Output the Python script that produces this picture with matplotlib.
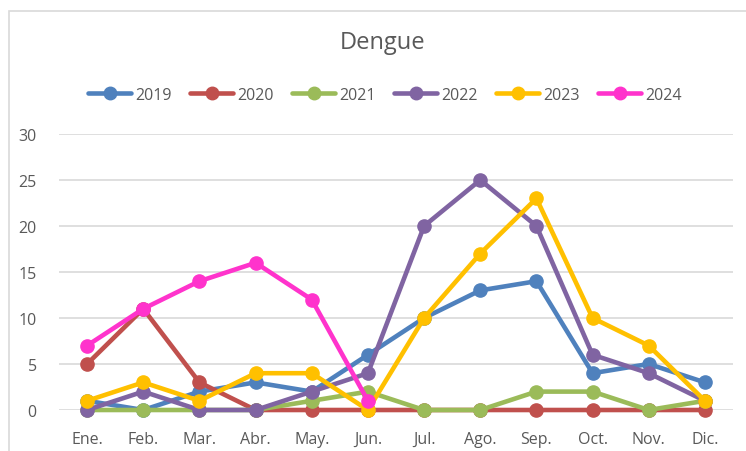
import matplotlib
matplotlib.use("Agg")
import matplotlib.pyplot as plt
from matplotlib.lines import Line2D

plt.rcParams['font.family'] = ['Open Sans', 'DejaVu Sans']

months = ["Ene.", "Feb.", "Mar.", "Abr.", "May.", "Jun.", "Jul.", "Ago.", "Sep.", "Oct.", "Nov.", "Dic."]
years = ["2019", "2020", "2021", "2022", "2023", "2024"]
v2019 = [1, 0, 2, 3, 2, 6, 10, 13, 14, 4, 5, 3]
v2020 = [5, 11, 3, 0, 0, 0, 0, 0, 0, 0, 0, 0]
v2021 = [0, 0, 0, 0, 1, 2, 0, 0, 2, 2, 0, 1]
v2022 = [0, 2, 0, 0, 2, 4, 20, 25, 20, 6, 4, 1]
v2023 = [1, 3, 1, 4, 4, 0, 10, 17, 23, 10, 7, 1]
v2024 = [7, 11, 14, 16, 12, 1]
yticks = [0, 5, 10, 15, 20, 25, 30]

series = [v2019, v2020, v2021, v2022, v2023, v2024]
colors = ["#4F81BD", "#C0504D", "#9BBB59", "#8064A2", "#FFC000", "#FF33CC"]

W, H = 746, 452
fig = plt.figure(figsize=(W / 100, H / 100), dpi=100)

# outer chart border (cropped Excel chart)
fig.add_artist(plt.Rectangle((9 / W, -0.1), 1.2, 1 - 12 / H + 0.1, transform=fig.transFigure,
                             fill=False, edgecolor="#D9D9D9", linewidth=1.2))

left, right = 59 / W, 733 / W
bottom, top = 1 - 411 / H, 1 - 135 / H
ax = fig.add_axes([left, bottom, right - left, top - bottom])

for i, (lab, vals, c) in enumerate(zip(years, series, colors)):
    ax.plot(range(len(vals)), vals, color=c, linewidth=3.3, marker="o", markersize=9.5,
            label=lab, clip_on=False, zorder=3 + i, solid_capstyle="round")

ax.set_xlim(-0.5, 11.5)
ax.set_ylim(0, 30)
ax.set_yticks(yticks)
ax.set_xticks(range(len(months)))
ax.set_xticklabels(months)
ax.grid(axis="y", color="#D9D9D9", linewidth=1.2)
ax.set_axisbelow(True)
for s in ax.spines.values():
    s.set_visible(False)
ax.tick_params(length=0, labelsize=11.5, colors="#595959")
ax.tick_params(axis="x", pad=15)
ax.tick_params(axis="y", pad=16)

fig.text(383 / W, 1 - 43 / H, "Dengue", ha="center", va="center", fontsize=17, color="#595959")

handles = [Line2D([], [], color=c, linewidth=3.3, marker="o", markersize=9, solid_capstyle="round")
           for c in colors]
fig.legend(handles, years, loc="center", bbox_to_anchor=(385 / W, 1 - 96 / H), ncol=6,
           frameon=False, fontsize=11.5, labelcolor="#595959", handlelength=2.7,
           handletextpad=0.25, columnspacing=1.15)

fig.savefig("out.png", dpi=100)
